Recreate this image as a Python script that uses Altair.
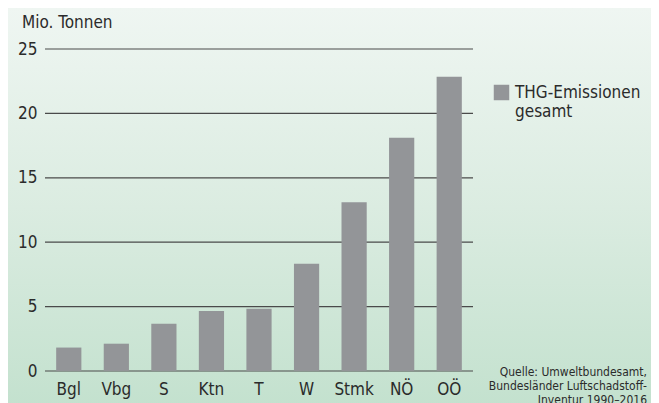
import altair as alt
import pandas as pd

regions = ["Bgl", "Vbg", "S", "Ktn", "T", "W", "Stmk", "NÖ", "OÖ"]
values = [1.82, 2.12, 3.67, 4.66, 4.84, 8.33, 13.1, 18.1, 22.85]
series_name = "THG-Emissionen gesamt"
y_ticks = [0, 5, 10, 15, 20, 25]
unit_title = "Mio. Tonnen"
source_text = "Quelle: Umweltbundesamt,\nBundesländer Luftschadstoff-\nInventur 1990–2016"

FONT = "Liberation Sans Narrow, DejaVu Sans Condensed, Arial Narrow, sans-serif"
TXT = "#2b2b2b"
FS = 17

df = pd.DataFrame({"region": regions, "value": values, "series": [series_name] * len(regions)})
ticks_df = pd.DataFrame({"tick": y_ticks})

W, H = 428, 322
PL, PT, PR, PB = 37, 41, 178, 37

grad = alt.Gradient(
    gradient="linear",
    stops=[alt.GradientStop(color="#eff6f2", offset=0),
           alt.GradientStop(color="#dbece1", offset=0.5),
           alt.GradientStop(color="#c3e1ce", offset=1)],
    x1=0, x2=0, y1=0, y2=1,
)

bg = alt.Chart(alt.Data(values=[{}])).mark_rect(fill=grad, strokeWidth=0).encode(
    x=alt.value(-PL), x2=alt.value(W + PR), y=alt.value(-PT), y2=alt.value(H + PB)
)

yscale = alt.Scale(domain=[0, 25], nice=False)
yaxis = alt.Axis(title=None, values=y_ticks, grid=False, domain=False,
                 ticks=False, labelPadding=8, labelFontSize=FS,
                 labelFont=FONT, labelColor=TXT, zindex=1)

grid = alt.Chart(ticks_df).mark_rule(color="#4a4a4a", strokeWidth=1.2).encode(
    y=alt.Y("tick:Q", scale=yscale, axis=yaxis)
)

bars = alt.Chart(df).mark_bar().encode(
    x=alt.X("region:N", sort=regions,
            scale=alt.Scale(paddingInner=0.47, paddingOuter=0.235),
            axis=alt.Axis(title=None, labelAngle=0, domain=False, ticks=False,
                          labelPadding=10, labelFontSize=FS, labelFont=FONT,
                          labelColor=TXT, zindex=1)),
    y=alt.Y("value:Q", scale=yscale, axis=yaxis),
    fill=alt.Fill("series:N", scale=alt.Scale(range=["#939598"]),
                  legend=alt.Legend(title=None, orient="none", legendX=448, legendY=35,
                                    symbolType="square", symbolSize=240,
                                    symbolStrokeWidth=0, labelOffset=5,
                                    labelFontSize=FS, labelFont=FONT, labelColor=TXT,
                                    labelExpr="['THG-Emissionen', 'gesamt']",
                                    labelLimit=300, padding=0, zindex=1)),
)

title_txt = alt.Chart(alt.Data(values=[{"t": unit_title}])).mark_text(
    align="left", baseline="alphabetic", fontSize=FS, font=FONT, color=TXT
).encode(text="t:N", x=alt.value(-23), y=alt.value(-21))

src_txt = alt.Chart(alt.Data(values=[{"t": source_text}])).mark_text(
    align="right", baseline="alphabetic", fontSize=12, font=FONT, color=TXT,
    lineBreak="\n", lineHeight=14
).encode(text="t:N", x=alt.value(602), y=alt.value(327))

chart = alt.layer(bg, grid, bars, title_txt, src_txt).properties(
    width=W, height=H,
    padding={"left": PL, "top": PT, "right": PR, "bottom": PB},
    autosize=alt.AutoSizeParams(type="none"),
    background="#eff6f2",
).configure_view(stroke=None)

chart.save("out.html", embed_options={"renderer": "svg", "actions": False})
